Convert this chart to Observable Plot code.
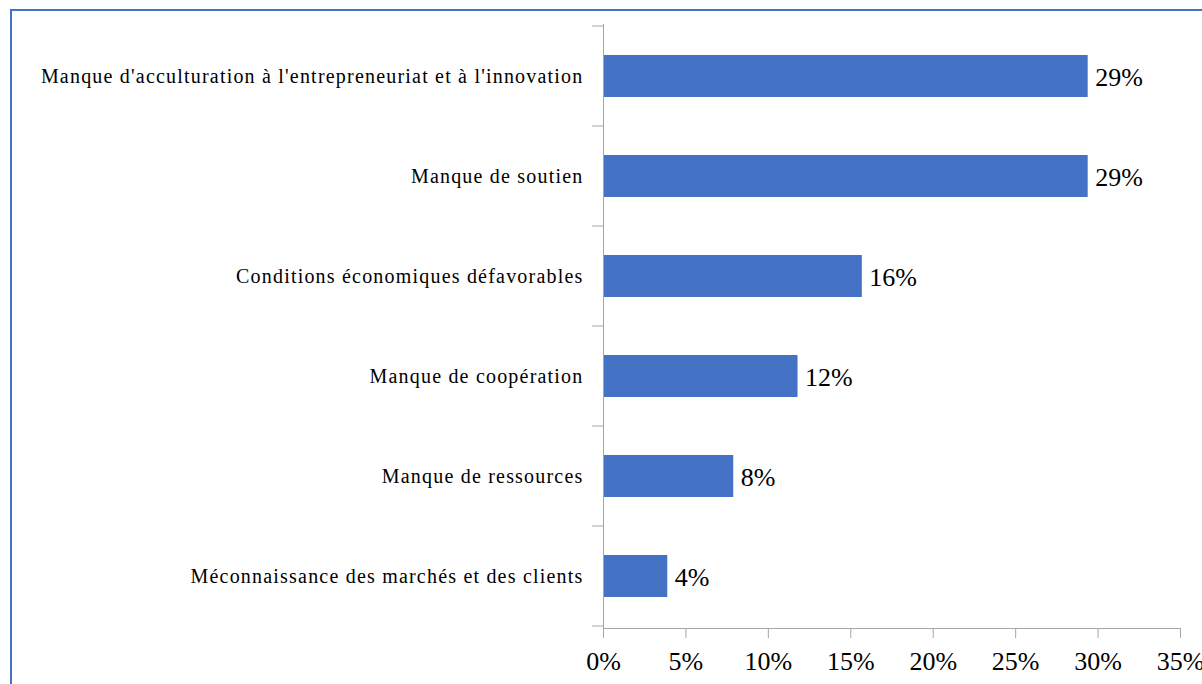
<!DOCTYPE html>
<html>
<head>
<meta charset="utf-8">
<script src="https://cdn.jsdelivr.net/npm/d3@7"></script>
<script src="https://cdn.jsdelivr.net/npm/@observablehq/plot@0.6"></script>
<style>
  html, body { margin: 0; padding: 0; background: #fff; overflow: hidden; font-family: "Liberation Serif", serif; }
  #wrap { position: relative; width: 1202px; height: 684px; }
  #border { position: absolute; left: 10px; top: 9px; right: -20px; bottom: -20px;
            border-left: 2px solid #4472C4; border-top: 2px solid #4472C4; pointer-events: none; }
  svg { display: block; }
  svg text { font-family: "Liberation Serif", serif !important; }
  .cat-axis text { letter-spacing: 1.2px; }
</style>
</head>
<body>
<div id="wrap"><div id="border"></div></div>
<script>
const categories = [
  "Manque d'acculturation à l'entrepreneuriat et à l'innovation",
  "Manque de soutien",
  "Conditions économiques défavorables",
  "Manque de coopération",
  "Manque de ressources",
  "Méconnaissance des marchés et des clients"
];
const values = [0.294, 0.294, 0.157, 0.118, 0.079, 0.039];
const xTicks = [0, 0.05, 0.10, 0.15, 0.20, 0.25, 0.30, 0.35];

const data = categories.map((c, i) => ({category: c, value: values[i]}));
const pct = d3.format(".0%");
const axisGray = "#A6A6A6";
const font = "Liberation Serif";

const chart = Plot.plot({
  width: 1202,
  height: 684,
  marginLeft: 603,
  marginRight: 22,
  marginTop: 24,
  marginBottom: 56,
  style: {fontFamily: font, background: "transparent", color: "#000"},
  x: {domain: [0, 0.35]},
  y: {domain: categories, padding: 0},
  marks: [
    Plot.barX(data, {x: "value", y: "category", fill: "#4472C4", insetTop: 29, insetBottom: 29}),
    Plot.text(data, {x: "value", y: "category", text: d => pct(d.value), textAnchor: "start", dx: 7, dy: 1, fontSize: 26, fontFamily: font, fill: "#000"}),
    Plot.frame({anchor: "bottom", stroke: axisGray, strokeOpacity: 1}),
    Plot.frame({anchor: "left", stroke: axisGray, strokeOpacity: 1}),
    Plot.axisX({ticks: xTicks, tickFormat: pct, tickSize: 10, tickPadding: 13, stroke: axisGray, strokeOpacity: 1, fill: "#000", fontSize: 26, fontFamily: font, label: null}),
    Plot.axisY({tickSize: 0, tickPadding: 20, fontSize: 20, fontFamily: font, fill: "#000", label: null, className: "cat-axis"})
  ]
});

// category boundary tick marks on the vertical axis (from the band scale)
const y = chart.scale("y");
const boundaries = categories.map(c => y.apply(c)).concat([y.apply(categories[categories.length - 1]) + y.bandwidth]);
const x0 = chart.scale("x").apply(0);
d3.select(chart).append("g")
  .attr("stroke", axisGray)
  .selectAll("line")
  .data(boundaries)
  .join("line")
  .attr("x1", x0 - 11).attr("x2", x0)
  .attr("y1", d => d).attr("y2", d => d);

document.getElementById("wrap").prepend(chart);
</script>
</body>
</html>
